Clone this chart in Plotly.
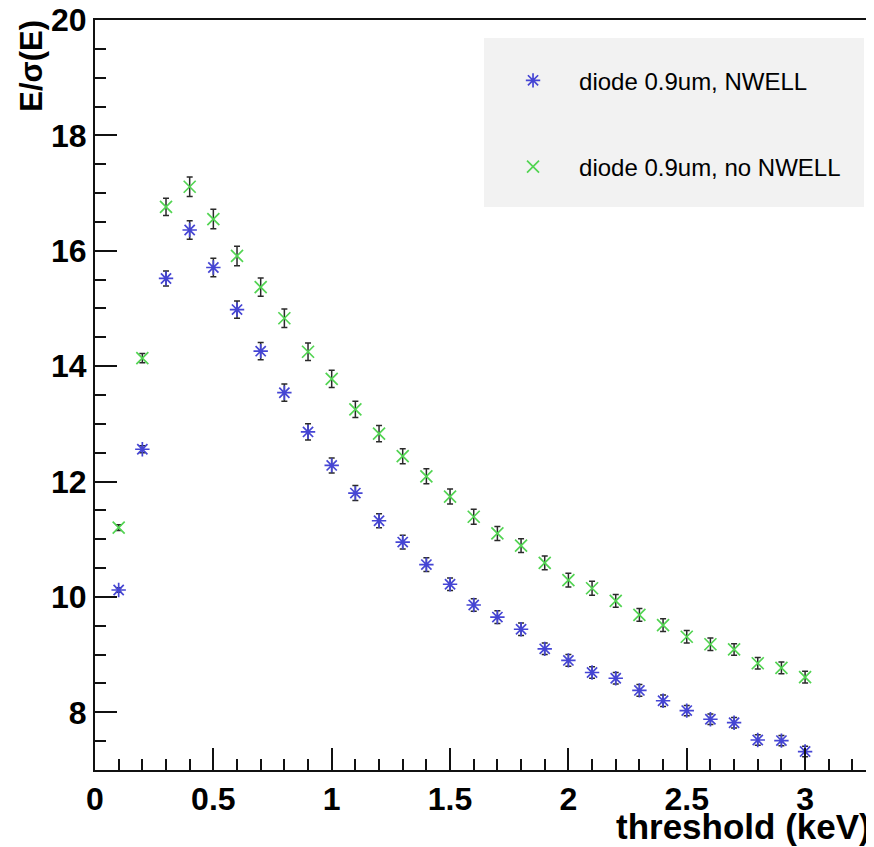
import plotly.graph_objects as go

# ── data ────────────────────────────────────────────────────────────────
THRESHOLD = [0.1, 0.2, 0.3, 0.4, 0.5, 0.6, 0.7, 0.8, 0.9, 1.0,
             1.1, 1.2, 1.3, 1.4, 1.5, 1.6, 1.7, 1.8, 1.9, 2.0,
             2.1, 2.2, 2.3, 2.4, 2.5, 2.6, 2.7, 2.8, 2.9, 3.0]

NWELL = [10.12, 12.56, 15.52, 16.36, 15.71, 14.98, 14.26, 13.54, 12.86, 12.28,
         11.80, 11.32, 10.95, 10.56, 10.22, 9.86, 9.65, 9.44, 9.10, 8.90,
         8.69, 8.59, 8.38, 8.20, 8.03, 7.88, 7.82, 7.52, 7.51, 7.32]
NWELL_ERR = [0.04, 0.06, 0.13, 0.16, 0.16, 0.15, 0.15, 0.15, 0.14, 0.13,
             0.13, 0.12, 0.12, 0.12, 0.11, 0.11, 0.11, 0.11, 0.10, 0.10,
             0.10, 0.10, 0.10, 0.10, 0.09, 0.09, 0.09, 0.09, 0.09, 0.09]

NO_NWELL = [11.20, 14.14, 16.76, 17.11, 16.55, 15.91, 15.37, 14.83, 14.25, 13.78,
            13.25, 12.83, 12.44, 12.09, 11.74, 11.39, 11.10, 10.89, 10.59, 10.29,
            10.15, 9.93, 9.69, 9.51, 9.31, 9.18, 9.09, 8.85, 8.77, 8.61]
NO_NWELL_ERR = [0.05, 0.08, 0.15, 0.17, 0.17, 0.17, 0.16, 0.16, 0.15, 0.15,
                0.14, 0.14, 0.13, 0.13, 0.13, 0.13, 0.12, 0.12, 0.12, 0.12,
                0.12, 0.11, 0.11, 0.11, 0.11, 0.11, 0.10, 0.10, 0.10, 0.10]

LABELS = ["diode 0.9um, NWELL", "diode 0.9um, no NWELL"]

X_RANGE = [0, 3.27]
Y_RANGE = [7, 20]

FONT = "'Liberation Sans', Arial, Helvetica, sans-serif"
BLUE = "#4545d4"
GREEN = "#52d452"
ERR = "#2a2a2a"

# the page body keeps its default 8px margin, so the figure is drawn 8px
# smaller and every margin is shifted to land on the reference pixels
PAGE_PAD = 8

fig = go.Figure()

fig.add_trace(go.Scatter(
    x=THRESHOLD, y=NWELL, mode="markers", name=LABELS[0],
    legendgroup="a",
    marker=dict(symbol="asterisk-open", size=12, color=BLUE,
                line=dict(color=BLUE, width=1.7)),
    error_y=dict(type="data", array=NWELL_ERR, color=ERR, thickness=1.5, width=3),
))
fig.add_trace(go.Scatter(
    x=THRESHOLD, y=NO_NWELL, mode="markers", name=LABELS[1],
    legendgroup="b",
    marker=dict(symbol="x-thin-open", size=12, color=GREEN,
                line=dict(color=GREEN, width=1.7)),
    error_y=dict(type="data", array=NO_NWELL_ERR, color=ERR, thickness=1.5, width=3),
))

axis_common = dict(
    showline=True, linecolor="#111", linewidth=2, mirror=True,
    showgrid=False, zeroline=False, ticks="inside", tickcolor="#111",
    tickwidth=1.5, ticklen=22, ticklabeloverflow="allow", automargin=False,
    tickfont=dict(family=FONT, size=32, color="#000", weight="bold"),
)

fig.update_layout(
    width=874 - PAGE_PAD, height=847 - PAGE_PAD,
    paper_bgcolor="white", plot_bgcolor="white",
    margin=dict(l=95 - PAGE_PAD, r=5, t=20 - PAGE_PAD, b=77, autoexpand=False),
    font=dict(family=FONT, color="#000"),
    xaxis=dict(range=X_RANGE, dtick=0.5, tick0=0,
               minor=dict(dtick=0.1, ticks="inside", ticklen=11, tickcolor="#111", tickwidth=1.5),
               **axis_common),
    yaxis=dict(range=Y_RANGE, dtick=2, tick0=0,
               minor=dict(dtick=0.5, ticks="inside", ticklen=11, tickcolor="#111", tickwidth=1.5),
               **axis_common),
    showlegend=True,
    legend=dict(
        x=0.5065, xanchor="left", y=0.949, yanchor="top",
        bgcolor="rgba(0,0,0,0)", borderwidth=0,
        font=dict(family=FONT, size=24, color="#000"),
        traceorder="grouped", tracegroupgap=52, itemwidth=82,
    ),
    shapes=[dict(type="rect", xref="paper", yref="paper",
                 x0=0.5026, x1=0.9935, y0=0.7507, y1=0.976,
                 fillcolor="#f2f2f2", line=dict(width=0), layer="below")],
    annotations=[
        dict(text="<b>E/σ(E)</b>", xref="paper", yref="paper",
             x=-0.0814, y=1.003, xanchor="center", yanchor="top",
             textangle=-90, showarrow=False,
             font=dict(family=FONT, size=31, color="#000")),
        dict(text="<b>threshold (keV)</b>", xref="paper", yref="paper",
             x=1.005, y=-0.0747, xanchor="right", yanchor="middle",
             showarrow=False,
             font=dict(family=FONT, size=35, color="#000")),
    ],
)

fig.write_html("out.html")
